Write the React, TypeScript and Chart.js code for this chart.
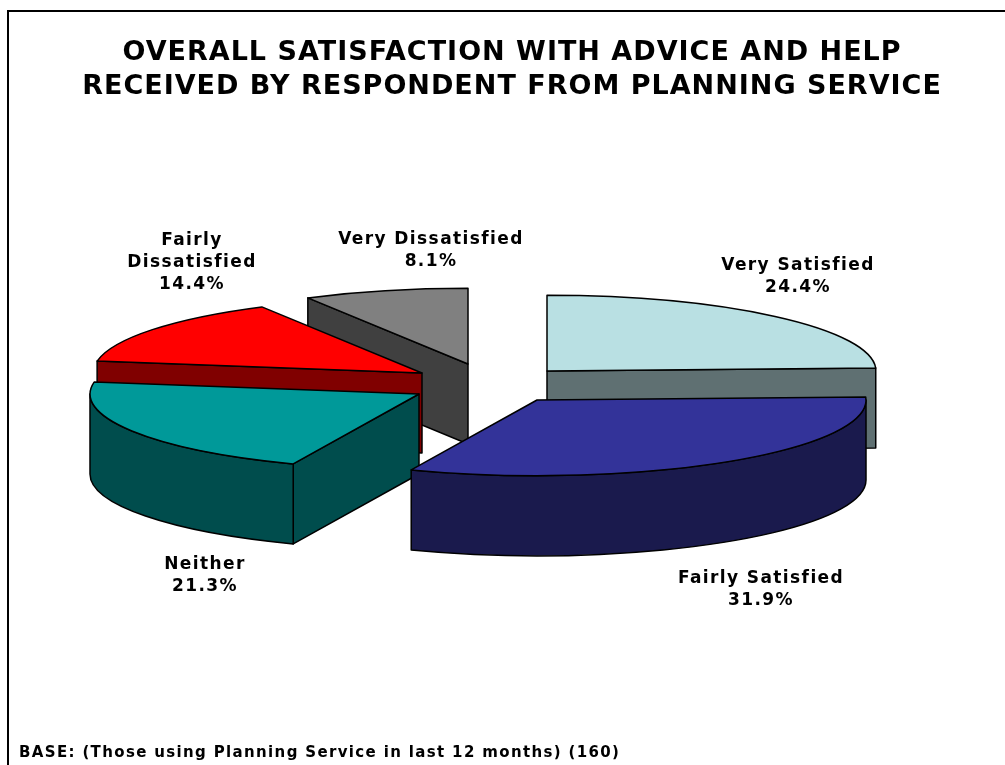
import React, { useEffect, useRef } from "react";
import { Chart, registerables } from "chart.js";

Chart.register(...registerables);

const categories = ["Very Satisfied", "Fairly Satisfied", "Neither", "Fairly Dissatisfied", "Very Dissatisfied"];
const values = [24.4, 31.9, 21.3, 14.4, 8.1];
const topColors = ["#b9e0e3", "#333399", "#009999", "#ff0000", "#808080"];
const sideColors = ["#5f7072", "#1a1a4d", "#004d4d", "#800000", "#404040"];
const titleLines = [
  "OVERALL SATISFACTION WITH ADVICE AND HELP",
  "RECEIVED BY RESPONDENT FROM PLANNING SERVICE",
];
const footer = "BASE: (Those using Planning Service in last 12 months) (160)";
// label wrapping, in the same order as categories
const labelLines = [["Very Satisfied"], ["Fairly Satisfied"], ["Neither"], ["Fairly", "Dissatisfied"], ["Very Dissatisfied"]];

// Presentation: projection of the pie and explosion of each wedge
const FONT = '"DejaVu Sans"';
const PIE_CENTER = { x: 470, y: 385 };
const RADIUS = 329;
const TILT = 0.23;
const DEPTH = 80;
const EXPLODE_X = [77, 67, -51, -48, -2];
const EXPLODE_Y = [-14, 15, 9, -12, -21];
const PAINT_ORDER = [4, 0, 3, 2, 1];
const LABEL_X = [798, 761, 205, 192, 431];
const LABEL_Y = [265.5, 578.5, 564.5, 240.5, 239.5];
const LABEL_LINE = 22;
const TITLE_SPACING = "1px";
const FOOTER_SPACING = "1.35px";
const LABEL_SPACING = "1.4px";

const pie3d = {
  id: "pie3d",
  afterLayout(chart: any) {
    const { ctx } = chart;
    for (const box of chart.boxes) {
      const text = box.options?.text;
      if (text === undefined || box.__spaced) continue;
      const spacing = text === footer ? FOOTER_SPACING : TITLE_SPACING;
      const draw = box.draw;
      box.__spaced = true;
      box.draw = function (...args: any[]) {
        ctx.letterSpacing = spacing;
        draw.apply(box, args);
        ctx.letterSpacing = "0px";
      };
    }
  },
  beforeDatasetsDraw(chart: any) {
    const { ctx } = chart;
    const arcs = chart.getDatasetMeta(0).data;
    ctx.save();
    ctx.lineJoin = "round";
    ctx.lineWidth = 1.5;
    ctx.strokeStyle = "#000";
    for (const i of PAINT_ORDER) {
      const arc = arcs[i];
      const cx = PIE_CENTER.x + EXPLODE_X[i];
      const cy = PIE_CENTER.y + EXPLODE_Y[i];
      const rx = arc.outerRadius;
      const ry = rx * TILT;
      const s = arc.startAngle;
      const e = arc.endAngle;
      const px = (t: number) => cx + rx * Math.cos(t);
      const py = (t: number) => cy + ry * Math.sin(t);
      const paint = (fill: string) => {
        ctx.closePath();
        ctx.fillStyle = fill;
        ctx.fill();
        ctx.stroke();
      };
      const wall = (t: number) => {
        ctx.beginPath();
        ctx.moveTo(cx, cy);
        ctx.lineTo(px(t), py(t));
        ctx.lineTo(px(t), py(t) + DEPTH);
        ctx.lineTo(cx, cy + DEPTH);
        paint(sideColors[i]);
      };
      // radial walls that face the viewer
      if (Math.cos(s) < -1e-6) wall(s);
      if (Math.cos(e) > 1e-6) wall(e);
      // outer wall: only the front half of the rim is visible
      const a = Math.max(s, 0);
      const b = Math.min(e, Math.PI);
      if (b > a) {
        ctx.beginPath();
        ctx.ellipse(cx, cy, rx, ry, 0, a, b, false);
        ctx.lineTo(px(b), py(b) + DEPTH);
        ctx.ellipse(cx, cy + DEPTH, rx, ry, 0, b, a, true);
        paint(sideColors[i]);
      }
      // top face: the library's own arc under the tilt projection
      ctx.save();
      ctx.translate(cx, cy);
      ctx.scale(1, TILT);
      ctx.translate(-arc.x, -arc.y);
      arc.draw(ctx);
      ctx.restore();
      ctx.beginPath();
      ctx.moveTo(cx, cy);
      ctx.ellipse(cx, cy, rx, ry, 0, s, e, false);
      ctx.closePath();
      ctx.stroke();
    }
    ctx.restore();
    return false;
  },
  afterDraw(chart: any) {
    const { ctx } = chart;
    ctx.save();
    ctx.fillStyle = "#000";
    ctx.font = `bold 17px ${FONT}`;
    ctx.letterSpacing = LABEL_SPACING;
    ctx.textAlign = "center";
    ctx.textBaseline = "middle";
    categories.forEach((_, i) => {
      const lines = [...labelLines[i], `${values[i].toFixed(1)}%`];
      lines.forEach((line, j) => ctx.fillText(line, LABEL_X[i], LABEL_Y[i] + j * LABEL_LINE));
    });
    ctx.restore();
  },
};

export default function App() {
  const ref = useRef<HTMLCanvasElement>(null);
  useEffect(() => {
    const chart = new Chart(ref.current!, {
      type: "pie",
      data: {
        labels: categories,
        datasets: [{ data: values, backgroundColor: topColors, borderWidth: 0, radius: RADIUS } as any],
      },
      options: {
        responsive: false,
        animation: false,
        rotation: 0,
        layout: { padding: { left: 19, top: 36, bottom: 0 } },
        plugins: {
          legend: { display: false },
          tooltip: { enabled: false },
          title: {
            display: true,
            text: titleLines,
            color: "#000",
            font: { family: FONT, size: 27, weight: "bold", lineHeight: 1.26 },
            padding: 0,
          },
          subtitle: {
            display: true,
            position: "bottom",
            align: "start",
            text: footer,
            color: "#000",
            font: { family: FONT, size: 15, weight: "bold", lineHeight: 1.2 },
            padding: { top: 0, bottom: 3 },
          },
        },
      },
      plugins: [pie3d],
    } as any);
    return () => chart.destroy();
  }, []);
  return (
    <div style={{ position: "fixed", left: 0, top: 0, width: 1005, height: 765, background: "#fff", overflow: "hidden" }}>
      <canvas ref={ref} width={1005} height={765} style={{ display: "block" }} />
      <div style={{ position: "absolute", left: 7, top: 10, width: 1000, height: 2, background: "#000" }} />
      <div style={{ position: "absolute", left: 7, top: 10, width: 2, height: 755, background: "#000" }} />
    </div>
  );
}
